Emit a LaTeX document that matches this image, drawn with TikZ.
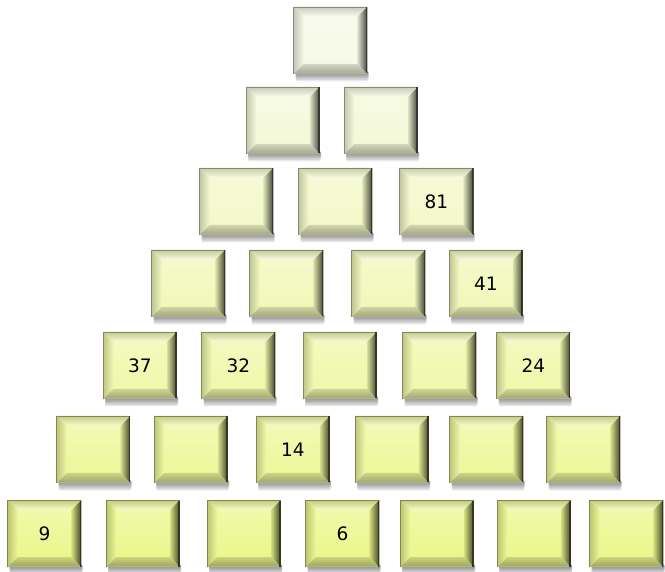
\documentclass[tikz,border=0pt]{standalone}
\usepackage{fontspec}
\setmainfont{DejaVu Sans}
\definecolor{paleC}{HTML}{F6F9E6}
\definecolor{ylwC}{HTML}{EBF78C}
\definecolor{edgeTan}{HTML}{B8B092}
\colorlet{rowA}{paleC}
\colorlet{rowB}{ylwC!16!paleC}
\colorlet{rowC}{ylwC!33!paleC}
\colorlet{rowD}{ylwC!50!paleC}
\colorlet{rowE}{ylwC!67!paleC}
\colorlet{rowF}{ylwC!84!paleC}
\colorlet{rowG}{ylwC}
\tikzset{
  numlbl/.style={inner sep=0pt,font=\fontsize{18.5}{22}\selectfont,text=black},
  shadowpart/.style={fill=black,opacity=0.085,rounded corners=2pt}
}
\newcommand{\pbox}[5]{%
  \begin{scope}[shift={(#2,#3)}]
    \foreach \k in {1,2,3,4,5}{
      \fill[shadowpart] (-35,64) rectangle (38,67+1.5*\k);
    }
    % face
    \shade[top color=#4!75!white,bottom color=#4] (-26.75,10) rectangle (26.75,57);
    % top bevel
    \shade[top color=#4!82!black,middle color=#4!20!white,bottom color=#4!40!white] (-36.75,0) -- (36.75,0) -- (26.75,10) -- (-26.75,10) -- cycle;
    % left bevel
    \shade[left color=#4!80!black,middle color=#4!96!black,right color=#4!90!white] (-36.75,0) -- (-26.75,10) -- (-26.75,57) -- (-36.75,67) -- cycle;
    % right bevel
    \shade[left color=#4!92!black,right color=#4!28!black] (36.75,0) -- (36.75,67) -- (26.75,57) -- (26.75,10) -- cycle;
    % bottom bevel
    \shade[top color=#4!86!black,bottom color=#4!66!black] (-26.75,57) -- (26.75,57) -- (36.75,67) -- (-36.75,67) -- cycle;
    % border
    \draw[#4!55!black,line width=0.6pt] (-36.75,67) -- (-36.75,0) -- (36.75,0);
    \draw[edgeTan,line width=1.4pt] (-36.3,66.3) -- (36,66.3);
    \draw[#4!22!black,line width=1.3pt] (36.1,0.5) -- (36.1,66.5);
  \end{scope}
  \node[numlbl] (#1) at (#2,#3+34) {#5};
}
\begin{document}
\begin{tikzpicture}[x=1pt,y=-1pt]
\useasboundingbox (0,0) rectangle (665,572);
\fill[white] (0,0) rectangle (665,572);
% row 1
\pbox{r1a}{330.5}{7}{rowA}{}
% row 2
\pbox{r2a}{283}{87}{rowB}{}
\pbox{r2b}{381}{87}{rowB}{}
% row 3
\pbox{r3a}{236.5}{168}{rowC}{}
\pbox{r3b}{335.5}{168}{rowC}{}
\pbox{r3c}{436.5}{168}{rowC}{81}
% row 4
\pbox{r4a}{188.5}{250}{rowD}{}
\pbox{r4b}{286.5}{250}{rowD}{}
\pbox{r4c}{388.5}{250}{rowD}{}
\pbox{r4d}{486}{250}{rowD}{41}
% row 5
\pbox{r5a}{140}{332}{rowE}{37}
\pbox{r5b}{238.5}{332}{rowE}{32}
\pbox{r5c}{340}{332}{rowE}{}
\pbox{r5d}{439.5}{332}{rowE}{}
\pbox{r5e}{533.5}{332}{rowE}{24}
% row 6
\pbox{r6a}{93.5}{416}{rowF}{}
\pbox{r6b}{191}{416}{rowF}{}
\pbox{r6c}{293}{416}{rowF}{14}
\pbox{r6d}{392}{416}{rowF}{}
\pbox{r6e}{486.5}{416}{rowF}{}
\pbox{r6f}{583.5}{416}{rowF}{}
% row 7
\pbox{r7a}{44.5}{500}{rowG}{9}
\pbox{r7b}{143}{500}{rowG}{}
\pbox{r7c}{244}{500}{rowG}{}
\pbox{r7d}{342.5}{500}{rowG}{6}
\pbox{r7e}{437}{500}{rowG}{}
\pbox{r7f}{534}{500}{rowG}{}
\pbox{r7g}{626.5}{500}{rowG}{}
\end{tikzpicture}
\end{document}
